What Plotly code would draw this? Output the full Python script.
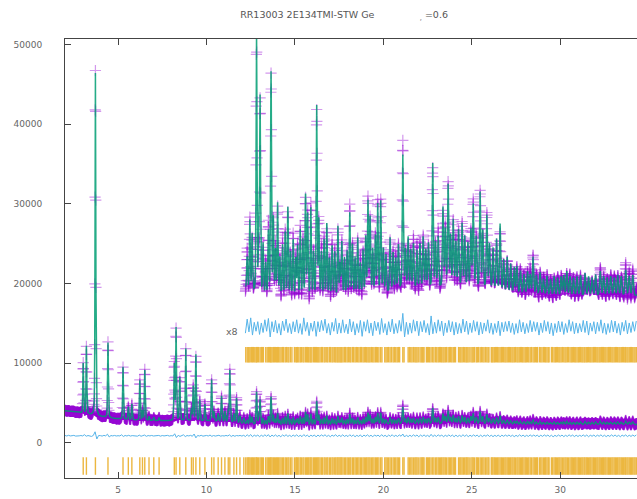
import numpy as np
import plotly.graph_objects as go

# ---------------- data ----------------
title_text = "RR13003 2E134TMI-STW Ge" + "\u00a0" * 15 + "<sub>,</sub>\u00a0=0.6"
x_ticks = [5, 10, 15, 20, 25, 30]
y_ticks = [0, 10000, 20000, 30000, 40000, 50000]
zoom_label = "x8"
zoom_factor = 8
zoom_start = 12.2

# background knots (2theta, counts)
bkg_x = [2.0, 2.5, 3.0, 3.5, 4.0, 4.5, 5.0, 6.0, 7.0, 8.0, 10.0, 11.0, 12.0, 12.5, 13.0,
         16.0, 18.0, 20.0, 21.0, 24.0, 26.0, 27.0, 30.0, 34.4]
bkg_y = [4050, 3900, 3700, 3500, 3300, 3150, 3000, 2850, 2800, 2760, 2750, 2650, 2450, 2350, 2290,
         2250, 2280, 2320, 2400, 2420, 2400, 2350, 2300, 2310]

# reflections: position and height above background
peak_pos = [3.03, 3.21, 3.72, 4.43, 5.28, 5.58, 5.78, 6.23, 6.38, 6.51, 6.75, 7.02, 7.32,
            8.18, 8.28, 8.49, 8.83, 9.15, 9.25, 9.40, 9.62, 9.91, 10.29, 10.42, 10.66, 10.85,
            11.04, 11.23, 11.32, 11.55, 11.70, 11.89, 12.11,
            12.30, 12.45, 12.58, 12.83, 12.95, 13.03, 13.20, 13.35, 13.50, 13.65, 13.78, 13.90,
            14.02, 14.15, 14.30, 14.45, 14.60, 14.75, 14.90, 15.05, 15.15, 15.30, 15.45, 15.60,
            15.72, 15.90, 16.05, 16.23, 16.35, 16.50, 16.65, 16.80, 16.95, 17.10, 17.25, 17.43,
            17.55, 17.65, 17.80, 17.95, 18.10, 18.25, 18.40, 18.55, 18.70, 18.85, 19.00, 19.13,
            19.25, 19.40, 19.55, 19.68, 19.85, 20.00, 20.15, 20.38, 20.55, 20.70, 20.85, 21.10,
            21.25, 21.40, 21.55, 21.70, 21.90, 22.07, 22.25, 22.40, 22.55, 22.79, 22.95, 23.10,
            23.37, 23.50, 23.66, 23.80, 23.95, 24.10, 24.25, 24.45, 24.60, 24.78, 24.95, 25.08,
            25.25, 25.47, 25.62, 25.85, 26.00, 26.20, 26.40, 26.60, 26.80, 27.00, 27.20, 27.40,
            27.55, 27.75, 27.95, 28.15, 28.30, 28.46, 28.65, 28.86, 29.05, 29.25, 29.45, 29.65,
            29.85, 30.05, 30.20, 30.37, 30.55, 30.75, 30.95, 31.15, 31.40, 31.60, 31.80, 32.00,
            32.26, 32.45, 32.65, 32.85, 33.05, 33.25, 33.45, 33.70, 33.90, 34.10]
peak_amp = [6300, 8500, 43000, 9400, 6600, 1600, 2000, 5000, 1200, 6300, 500, 400, 400,
            7000, 11600, 5400, 9100, 1500, 4300, 8300, 2600, 2100, 5200, 1200, 1000, 3200,
            1300, 1500, 6500, 1100, 3100, 900, 700,
            500, 1100, 900, 4100, 700, 3100, 800, 500, 1000, 3500, 1200, 700,
            1450, 600, 800, 1000, 1400, 700, 900, 600, 800, 1050, 900, 1600,
            1300, 1400, 700, 3000, 1200, 700, 900, 1150, 600, 800, 700, 1100,
            500, 850, 600, 700, 1300, 800, 600, 900, 500, 700, 900, 1450,
            1200, 700, 900, 1400, 1450, 700, 600, 850, 600, 500, 700, 2100,
            600, 800, 600, 700, 600, 700, 800, 600, 700, 1950, 700, 800,
            1250, 900, 1600, 800, 1050, 700, 900, 1000, 800, 700, 900, 1300,
            800, 1500, 900, 1150, 700, 650, 800, 1050, 500, 550, 450, 400,
            420, 350, 300, 350, 300, 580, 300, 350, 250, 300, 250, 300,
            280, 300, 320, 380, 300, 280, 300, 320, 350, 300, 280, 330,
            380, 300, 280, 300, 280, 320, 300, 400, 300, 320]

# observed - calculated, every 0.1 deg from 2.0
resid = [40, -30, 60, -20, 10, 50, -40, 20, -10, 30,
         -20, 140, -60, 30, 0, -80, 40, 500, -400, 30,
         20, -40, 50, -10, 200, -150, 30, -20, 40, -30,
         10, -20, 120, -90, 40, -30, 60, -40, 20, -10,
         30, -50, 80, -60, 20, 90, -70, 30, -20, 40,
         -30, 20, -10, 40, -50, 30, -20, 10, 50, -40,
         20, -30, 250, -220, 60, -80, 40, 120, -100, 30,
         -20, 50, -60, 220, -260, 40, -30, 60, -50, 20,
         40, -30, 90, -70, 30, -40, 20, 60, -50, 10,
         -30, 40, -20, 110, -90, 50, -60, 30, -10, 40,
         -40, 60, -90, 130, -70, 150, -120, 80, -60, 90,
         -110, 70, -80, 120, -60, 140, -150, 90, -70, 110,
         -90, 60, -120, 100, -50, 130, -80, 60, -100, 90,
         -70, 120, -90, 60, -110, 150, -60, 80, -130, 70,
         -60, 100, -140, 90, -70, 110, -50, 130, -90, 60,
         -120, 80, -60, 140, -100, 70, -90, 120, -80, 50,
         -100, 130, -70, 90, -120, 60, -80, 110, -140, 90,
         -60, 120, -90, 70, -130, 100, -50, 80, -110, 140,
         -80, 60, -120, 90, -70, 130, -100, 60, -90, 110,
         -60, 220, -150, 80, -110, 70, -90, 120, -60, 100,
         -130, 90, -70, 110, -80, 60, -120, 180, -100, 80,
         -90, 120, -60, 100, -130, 70, -80, 110, -70, 90,
         -120, 80, -100, 60, -90, 130, -70, 100, -110, 70,
         -80, 110, -60, 90, -120, 80, -100, 70, -60, 120,
         -90, 70, -110, 60, -80, 100, -130, 80, -70, 90,
         -60, 100, -80, 70, -110, 60, -90, 120, -70, 80,
         -100, 60, -80, 110, -70, 90, -60, 80, -120, 70,
         -80, 110, -60, 90, -100, 70, -130, 60, -80, 100,
         -70, 90, -110, 60, -80, 120, -60, 90, -100, 70,
         -90, 60, -70, 110, -80, 100, -120, 70, -60, 90,
         -100, 80, -60, 120, -90, 70, -110, 60, -80, 110,
         -70, 100, -90, 60, -120, 80, -60, 110, -100, 70,
         -80, 90, -60, 100]

# reflection tick positions
refl_pos = [3.03, 3.21, 3.72, 4.43, 5.28, 5.58, 5.78, 6.23, 6.38, 6.51, 6.75, 7.02, 7.32,
            8.18, 8.28, 8.49, 8.83, 9.15, 9.25, 9.40, 9.62, 9.91, 10.29, 10.42, 10.66, 10.85,
            11.04, 11.23, 11.32, 11.55, 11.70, 11.89, 12.11,
            12.22, 12.30, 12.36, 12.41, 12.47, 12.55, 12.60, 12.66, 12.73, 12.80, 12.83, 12.88,
            12.95, 13.03, 13.10, 13.16, 13.22, 13.35, 13.43, 13.50, 13.56, 13.62, 13.65, 13.71,
            13.78, 13.84, 13.90, 13.97, 14.02, 14.08, 14.15, 14.22, 14.30, 14.36, 14.45, 14.52,
            14.60, 14.66, 14.75, 14.83, 14.97, 15.05, 15.10, 15.15, 15.22, 15.30, 15.36, 15.45,
            15.51, 15.60, 15.66, 15.72, 15.78, 15.85, 15.90, 15.96, 16.05, 16.11, 16.17, 16.23,
            16.29, 16.35, 16.42, 16.50, 16.56, 16.65, 16.71, 16.80, 16.86, 16.95, 17.02, 17.10,
            17.16, 17.25, 17.31, 17.38, 17.43, 17.49, 17.55, 17.60, 17.65, 17.72, 17.80, 17.87,
            17.95, 18.02, 18.10, 18.16, 18.25, 18.32, 18.40, 18.47, 18.55, 18.62, 18.70, 18.77,
            18.85, 18.92, 19.00, 19.06, 19.13, 19.19, 19.25, 19.33, 19.40, 19.47, 19.55, 19.61,
            19.68, 19.75, 19.85, 19.92, 20.08, 20.15, 20.22, 20.30, 20.38, 20.46, 20.55, 20.62,
            20.70, 20.78, 20.85, 20.92, 21.10, 21.17, 21.40, 21.47, 21.55, 21.62, 21.70, 21.78,
            21.84, 21.90, 21.97, 22.07, 22.14, 22.20, 22.25, 22.30, 22.43, 22.49, 22.55, 22.62,
            22.70, 22.79, 22.86, 22.95, 23.02, 23.10, 23.17, 23.24, 23.30, 23.37, 23.43, 23.50,
            23.57, 23.66, 23.73, 23.80, 23.87, 23.95, 24.02, 24.08, 24.25, 24.32, 24.38, 24.45,
            24.52, 24.60, 24.67, 24.72, 24.78, 24.85, 24.95, 25.02, 25.08, 25.15, 25.25, 25.31,
            25.38, 25.47, 25.54, 25.62, 25.69, 25.77, 25.85, 25.92, 25.97, 26.10, 26.15, 26.20,
            26.27, 26.33, 26.40, 26.46, 26.53, 26.60, 26.67, 26.73, 26.80, 26.87, 26.93, 27.00,
            27.07, 27.13, 27.20, 27.27, 27.33, 27.40, 27.47, 27.55, 27.61, 27.68, 27.75, 27.82,
            27.88, 27.95, 28.02, 28.08, 28.15, 28.22, 28.30, 28.37, 28.46, 28.53, 28.60, 28.67,
            28.72, 28.83, 28.90, 28.97, 29.05, 29.12, 29.18, 29.25, 29.32, 29.37, 29.50, 29.57,
            29.65, 29.72, 29.78, 29.85, 29.92, 29.98, 30.05, 30.12, 30.20, 30.27, 30.33, 30.40,
            30.47, 30.55, 30.62, 30.68, 30.75, 30.82, 30.88, 30.95, 31.02, 31.08, 31.15, 31.22,
            31.28, 31.35, 31.40, 31.47, 31.53, 31.60, 31.67, 31.73, 31.80, 31.87, 31.93, 32.00,
            32.07, 32.13, 32.20, 32.26, 32.33, 32.40, 32.45, 32.52, 32.58, 32.65, 32.72, 32.78,
            32.85, 32.92, 32.98, 33.05, 33.12, 33.18, 33.25, 33.32, 33.38, 33.45, 33.52, 33.58,
            33.65, 33.70, 33.77, 33.83, 33.90, 33.97, 34.03, 34.10, 34.17, 34.23, 34.30]

# ---------------- layout constants (positions / styles) ----------------
diff_offset = 900
diff_offset_zoom = 14500
tick_main = (-1800, -4000)
tick_zoom = (10100, 12050)
x_range = [2.0, 34.34]
y_range = [-4400, 50700]

C_OBS = "#9400D3"
C_CALC = "#009E73"
C_DIFF = "#56B4E9"
C_TICK = "#E69F00"
FONT = "DejaVu Sans"

# ---------------- build profile ----------------
tth = np.round(np.arange(2.0, 34.345, 0.01), 2)
calc = np.interp(tth, bkg_x, bkg_y).astype(float)
for p, a in zip(peak_pos, peak_amp):
    w = 0.045 + 0.0012 * p
    d = (tth - p) / w
    calc += a * (0.7 * np.exp(-4 * np.log(2) * d * d) + 0.3 / (1 + 4 * d * d))
resid_x = np.round(2.0 + 0.1 * np.arange(len(resid)), 2)
resid_arr = np.array(resid, dtype=float)
obs = calc + np.interp(tth, resid_x, resid_arr)

zm = tth >= zoom_start
zr = resid_x >= zoom_start


def tick_xy(positions, y0, y1):
    xs, ys = [], []
    for p in positions:
        xs += [p, p, None]
        ys += [y0, y1, None]
    return xs, ys


fig = go.Figure()

marker = dict(symbol="cross-thin", size=8, opacity=0.4,
              line=dict(color=C_OBS, width=1.2), color=C_OBS)

# main pattern
fig.add_trace(go.Scatter(x=tth, y=obs, mode="markers", marker=marker, hoverinfo="skip"))
fig.add_trace(go.Scatter(x=tth, y=calc, mode="lines",
                         line=dict(color=C_CALC, width=1.5), opacity=0.85, hoverinfo="skip"))
# zoomed pattern
fig.add_trace(go.Scatter(x=tth[zm], y=obs[zm] * zoom_factor, mode="markers", marker=marker,
                         hoverinfo="skip"))
fig.add_trace(go.Scatter(x=tth[zm], y=calc[zm] * zoom_factor, mode="lines",
                         line=dict(color=C_CALC, width=1.5), opacity=0.85, hoverinfo="skip"))
# difference curves
fig.add_trace(go.Scatter(x=resid_x, y=resid_arr + diff_offset, mode="lines",
                         line=dict(color=C_DIFF, width=1), hoverinfo="skip"))
fig.add_trace(go.Scatter(x=resid_x[zr], y=resid_arr[zr] * zoom_factor + diff_offset_zoom,
                         mode="lines", line=dict(color=C_DIFF, width=1), hoverinfo="skip"))
# reflection ticks
tx, ty = tick_xy(refl_pos, *tick_main)
fig.add_trace(go.Scatter(x=tx, y=ty, mode="lines", line=dict(color=C_TICK, width=1.4),
                         opacity=0.75, hoverinfo="skip"))
tx, ty = tick_xy([p for p in refl_pos if p >= zoom_start], *tick_zoom)
fig.add_trace(go.Scatter(x=tx, y=ty, mode="lines", line=dict(color=C_TICK, width=1.4),
                         opacity=0.75, hoverinfo="skip"))

fig.add_annotation(x=zoom_start, y=14000, text=zoom_label, showarrow=False,
                   xanchor="right", xshift=-5, font=dict(family=FONT, size=9.5, color="#666"))

fig.update_layout(
    width=637, height=499,
    margin=dict(l=65, r=0, t=39, b=21, autoexpand=False),
    paper_bgcolor="white", plot_bgcolor="white",
    showlegend=False,
    title=dict(text=title_text, x=0.377, xanchor="left", xref="container",
               y=1 - 15 / 499, yanchor="middle", yref="container",
               font=dict(family=FONT, size=9.5, color="#555")),
    font=dict(family=FONT, size=9, color="#666"),
    xaxis=dict(range=x_range, tickvals=x_ticks, ticks="inside", ticklen=6, tickcolor="#444",
               showline=True, linecolor="#444", linewidth=1, mirror="ticks",
               showgrid=False, zeroline=False, ticklabelstandoff=3, automargin=False),
    yaxis=dict(range=y_range, tickvals=y_ticks, tickformat="d", ticks="inside", ticklen=6,
               tickcolor="#444", showline=True, linecolor="#444", linewidth=1, mirror=False,
               showgrid=False, zeroline=False, ticklabelstandoff=20, automargin=False),
)

fig.write_html("out.html", config={"displayModeBar": False},
               post_script="document.body.style.margin='0';document.body.style.overflow='hidden';")
